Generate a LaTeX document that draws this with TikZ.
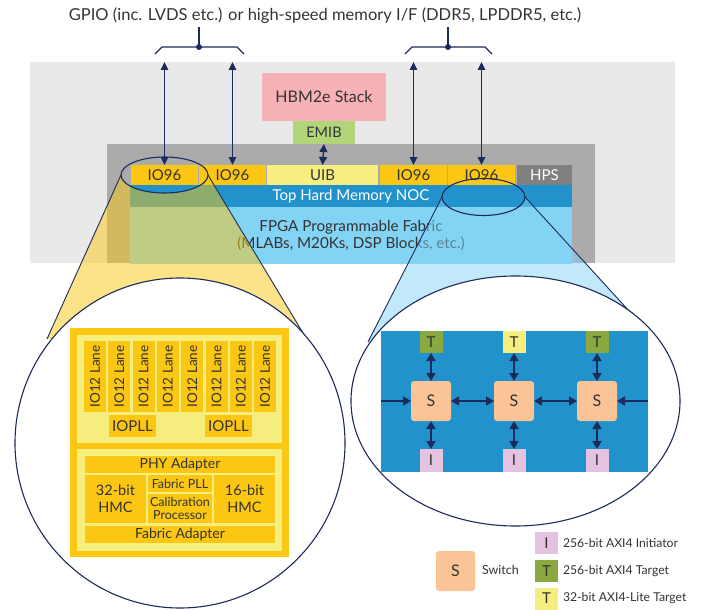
\documentclass[tikz,border=0pt]{standalone}
\usepackage{fontspec}
\setmainfont{Lato}
\usetikzlibrary{arrows.meta}

\definecolor{navy}{HTML}{1D2B5C}
\definecolor{txt}{HTML}{333333}
\definecolor{bglight}{HTML}{E9E9E9}
\definecolor{bgdark}{HTML}{ABABAB}
\definecolor{ioyel}{HTML}{FBC712}
\definecolor{paleyel}{HTML}{F6EE7E}
\definecolor{hpsgray}{HTML}{808080}
\definecolor{nocblue}{HTML}{2192CB}
\definecolor{fabblue}{HTML}{83D3F5}
\definecolor{hbmpink}{HTML}{F7B2B7}
\definecolor{emibgrn}{HTML}{B2D57A}
\definecolor{swpeach}{HTML}{FAC496}
\definecolor{tgtgrn}{HTML}{8AAA41}
\definecolor{initpink}{HTML}{E3C3DF}

\tikzset{
  blk/.style={inner sep=0pt, outer sep=0pt, text=txt, align=center},
  wh/.style 2 args={minimum width=#1pt, minimum height=#2pt},
  fsz/.style={font=\fontsize{#1}{#1}\selectfont},
  topio/.style={blk, wh={#1}{20}, fill=ioyel, fsz=15},
  lane/.style={blk, wh={22}{71}, fill=ioyel},
  inner/.style={blk, fill=ioyel},
  tgt/.style={blk, wh={23}{22}, fsz=15},
  swbox/.style={blk, wh={40}{40}, fill=swpeach, rounded corners=3pt, fsz=16},
  dblarr/.style={draw=navy, line width=1.3pt,
    {Triangle[width=7.5pt,length=8pt]}-{Triangle[width=7.5pt,length=8pt]}},
  nocarr/.style={draw=navy, line width=1.7pt,
    {Triangle[width=9pt,length=8pt]}-{Triangle[width=9pt,length=8pt]}},
  nocin/.style={draw=navy, line width=1.7pt, -{Triangle[width=9pt,length=8pt]}},
  outline/.style={draw=navy, line width=1.1pt},
}

\begin{document}
\begin{tikzpicture}[x=1pt,y=-1pt]
\useasboundingbox (0,0) rectangle (705,610);

% chip backdrop
\fill[bglight] (30,62) rectangle (675,263);
\fill[bgdark] (107,144) rectangle (595,263);

% title
\node[blk, fsz=16.5] (title) at (325,16) {GPIO (inc. LVDS etc.) or high-speed memory I/F (DDR5, LPDDR5, etc.)};

% HBM stack and EMIB
\node[blk, wh={124}{48}, fill=hbmpink, fsz=16] (hbm) at (324,97) {HBM2e Stack};
\node[blk, wh={62}{23}, fill=emibgrn, fsz=14.5] (emib) at (324,132.5) {EMIB};

% IO row
\node[topio=67] (io1) at (164.5,175) {IO96};
\node[topio=67] (io2) at (232.5,175) {IO96};
\node[blk, wh={111}{20}, fill=paleyel, fsz=15] (uib) at (322.5,175) {UIB};
\node[topio=67] (io3) at (413.5,175) {IO96};
\node[topio=67] (io4) at (481.5,175) {IO96};
\node[blk, wh={55}{20}, fill=hpsgray, text=white, fsz=15] (hps) at (544.5,175) {HPS};

% NOC and fabric
\node[blk, wh={442}{22}, fill=nocblue, text=white, fsz=15] (noc) at (351,196) {Top Hard Memory NOC};
\node[blk, wh={442}{57}, fill=fabblue, font=\fontsize{15.2}{16.5}\selectfont] (fab) at (351,235.5)
  {FPGA Programmable Fabric\\(MLABs, M20Ks, DSP Blocks, etc.)};

% external interface arrows
\coordinate (a1) at (164.5,62);
\coordinate (a2) at (232.5,62);
\coordinate (a3) at (413.5,62);
\coordinate (a4) at (481.5,62);
\draw[dblarr] (a1) -- (io1.north);
\draw[dblarr] (a2) -- (io2.north);
\draw[dblarr] (a3) -- (io3.north);
\draw[dblarr] (a4) -- (io4.north);
\draw[draw=navy, line width=1.3pt,
  {Triangle[width=8pt,length=8pt]}-{Triangle[width=8pt,length=8pt]}] (emib.south) -- (uib.north);

% brackets grouping the IO96 pairs
\coordinate (bl1) at (155,54); \coordinate (bl2) at (162,47);
\coordinate (bl3) at (237,47); \coordinate (bl4) at (244,54);
\coordinate (bld) at (199,47); \coordinate (blt) at (199,27);
\draw[navy, line width=1.2pt] (bl1) -- (bl2) -- (bl3) -- (bl4);
\draw[navy, line width=1.2pt] (bld) -- (blt);
\fill[navy] (bld) circle[radius=3];
\coordinate (br1) at (405,54); \coordinate (br2) at (412,47);
\coordinate (br3) at (485,47); \coordinate (br4) at (492,54);
\coordinate (brd) at (448,47); \coordinate (brt) at (448,27);
\draw[navy, line width=1.2pt] (br1) -- (br2) -- (br3) -- (br4);
\draw[navy, line width=1.2pt] (brd) -- (brt);
\fill[navy] (brd) circle[radius=3];

% zoom cones
\coordinate (le) at (164.5,175);
\coordinate (lw) at (121,175); \coordinate (le2) at (208,175);
\coordinate (lc) at (180,443);
\coordinate (lL) at (47,339); \coordinate (lR) at (306,338);
\fill[ioyel, opacity=0.5] (lw) -- (lL) -- (lR) -- (le2)
  arc[start angle=0, end angle=180, x radius=43.5, y radius=18] -- cycle;

\coordinate (re) at (483.5,197);
\coordinate (rw) at (442,197); \coordinate (re2) at (525,197);
\coordinate (rc) at (515.5,401);
\coordinate (rL) at (368,342); \coordinate (rR) at (630,312);
\fill[fabblue, opacity=0.5] (rw) -- (rL) -- (rR) -- (re2)
  arc[start angle=0, end angle=180, x radius=41.5, y radius=18.5] -- cycle;

\draw[outline] (le) ellipse[x radius=43.5, y radius=18];
\draw[outline] (re) ellipse[x radius=41.5, y radius=18.5];
\draw[navy, line width=0.9pt] (lw) -- (lL);
\draw[navy, line width=0.9pt] (le2) -- (lR);
\draw[navy, line width=0.9pt] (rw) -- (rL);
\draw[navy, line width=0.9pt] (re2) -- (rR);

\draw[outline, fill=white] (lc) circle[radius=165];
\draw[outline, fill=white] (rc) ellipse[x radius=164.5, y radius=125];

% IO96 bank detail
\node[blk, wh={219}{229}, fill=ioyel] (bank) at (179.5,442.5) {};
\node[blk, wh={205}{108}, fill=paleyel] (lanes) at (179.5,389) {};
\node[blk, wh={205}{102}, fill=paleyel] (ctrl) at (179.5,500) {};
\foreach \i in {0,...,7} {
  \node[lane] (ln\i) at (95+24.3*\i,376.5) {};
  \node[blk, rotate=90, fsz=13.5] at (ln\i) {IO12 Lane};
}
\node[inner, wh={47}{22}, fsz=15] (pll1) at (132.5,426) {IOPLL};
\node[inner, wh={47}{22}, fsz=15] (pll2) at (228.5,426) {IOPLL};
\node[inner, wh={190}{17}, fsz=14] (phy) at (180,464.5) {PHY Adapter};
\node[inner, wh={61}{48}, font=\fontsize{14.5}{17}\selectfont] (hmc32) at (115.5,499) {32-bit\\HMC};
\node[inner, wh={64}{17}, fsz=12.5] (fpll) at (180,483.5) {Fabric PLL};
\node[inner, wh={64}{29}, font=\fontsize{12.5}{13.5}\selectfont] (cal) at (180,508.5) {Calibration\\Processor};
\node[inner, wh={61}{48}, font=\fontsize{14.5}{17}\selectfont] (hmc16) at (244.5,499) {16-bit\\HMC};
\node[inner, wh={190}{17}, fsz=14] (fad) at (180,534.5) {Fabric Adapter};

% NOC detail
\node[blk, wh={267}{141}, fill=nocblue] (nocp) at (514.5,401.5) {};
\node[tgt, fill=tgtgrn] (t1) at (431,342) {T};
\node[tgt, fill=paleyel] (t2) at (514,342) {T};
\node[tgt, fill=tgtgrn] (t3) at (597,342) {T};
\node[swbox] (s1) at (431,401) {S};
\node[swbox] (s2) at (514,401) {S};
\node[swbox] (s3) at (597,401) {S};
\node[tgt, wh={23}{23}, fill=initpink] (i1) at (431,460.5) {I};
\node[tgt, wh={23}{23}, fill=initpink] (i2) at (514,460.5) {I};
\node[tgt, wh={23}{23}, fill=initpink] (i3) at (597,460.5) {I};
\foreach \k in {1,2,3} {
  \draw[nocarr] (t\k.south) -- (s\k.north);
  \draw[nocarr] (s\k.south) -- (i\k.north);
}
\draw[nocarr] (s1.east) -- (s2.west);
\draw[nocarr] (s2.east) -- (s3.west);
\draw[nocin] (nocp.west |- s1.west) -- (s1.west);
\draw[nocin] (nocp.east |- s3.east) -- (s3.east);

% legend
\node[swbox, wh={39}{40}] (ls) at (455.5,571) {S};
\node[blk, fsz=12.5, anchor=west] (lsw) at (482,570) {Switch};
\node[tgt, fill=initpink] (li) at (546.5,543) {I};
\node[tgt, fill=tgtgrn] (lt) at (546.5,571) {T};
\node[tgt, fill=paleyel] (lty) at (546.5,598.5) {T};
\node[blk, fsz=12.2, anchor=west] at (563,543) {256-bit AXI4 Initiator};
\node[blk, fsz=12.2, anchor=west] at (563,571) {256-bit AXI4 Target};
\node[blk, fsz=12.2, anchor=west] at (563,598.5) {32-bit AXI4-Lite Target};
\end{tikzpicture}
\end{document}
